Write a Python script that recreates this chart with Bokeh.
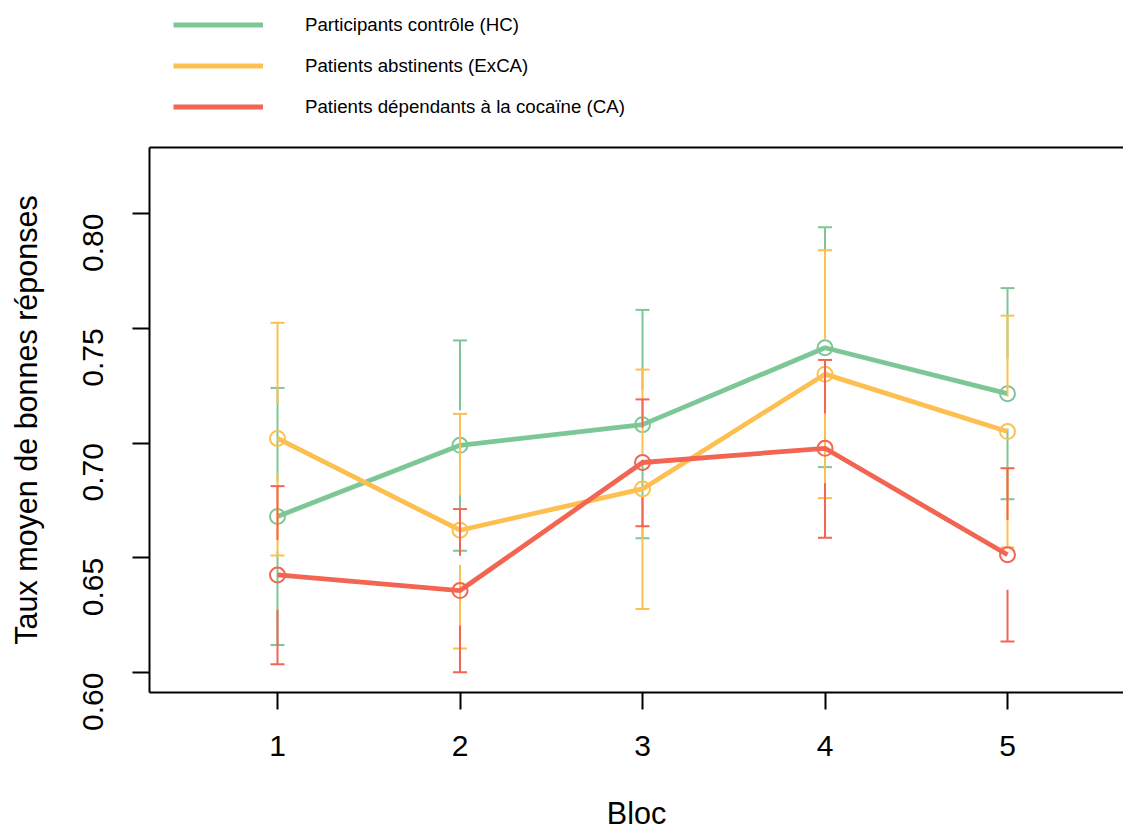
import math
from bokeh.plotting import figure
from bokeh.layouts import column
from bokeh.models import (Legend, LegendItem, LinearAxis,
                          FixedTicker, Range1d, NumeralTickFormatter)
from bokeh.embed import file_html
from bokeh.resources import INLINE

# ---------------- data ----------------
blocs = [1, 2, 3, 4, 5]
group_names = ["Participants contrôle (HC)",
               "Patients abstinents (ExCA)",
               "Patients dépendants à la cocaïne (CA)"]

hc_mean = [0.668, 0.699, 0.708, 0.7415, 0.7215]
hc_low = [0.612, 0.653, 0.6585, 0.6895, 0.6755]
hc_high = [0.724, 0.7447, 0.758, 0.794, 0.7675]

exca_mean = [0.702, 0.662, 0.680, 0.730, 0.705]
exca_low = [0.651, 0.6105, 0.6277, 0.676, 0.6545]
exca_high = [0.7524, 0.7127, 0.732, 0.784, 0.7555]

ca_mean = [0.6425, 0.6357, 0.6915, 0.6977, 0.6513]
ca_low = [0.6036, 0.6001, 0.6637, 0.6587, 0.6135]
ca_high = [0.6812, 0.6712, 0.719, 0.7362, 0.689]

y_ticks = [0.60, 0.65, 0.70, 0.75, 0.80]
x_label = "Bloc"
y_label = "Taux moyen de bonnes réponses"

colors = ["#7DC797", "#FDBF50", "#F26552"]
FONT = "Liberation Sans"
GAP = 0.0152  # gap around the point (plotCI style)
LINE_W = 4.8

# ---------------- legend strip (top) ----------------
LEG_H = 140
lf = figure(width=1123, height=LEG_H, x_range=Range1d(1, 2), y_range=Range1d(1, 2),
            output_backend="svg", toolbar_location=None,
            x_axis_location=None, y_axis_location=None,
            min_border_left=0, min_border_right=0, min_border_top=0, min_border_bottom=0)
lf.xgrid.visible = False
lf.ygrid.visible = False
lf.outline_line_color = None
# legend-only renderers (a single point: nothing is drawn in the strip)
leg_renderers = [lf.line(x=[0], y=[0], line_color=c, line_width=LINE_W) for c in colors]
legend = Legend(items=[LegendItem(label=n, renderers=[r])
                       for n, r in zip(group_names, leg_renderers)],
                location=(24, 17), orientation="vertical",
                glyph_width=90, glyph_height=33, label_height=33,
                spacing=8, padding=0, margin=0, label_standoff=42,
                border_line_color=None, background_fill_alpha=0,
                label_text_font=FONT, label_text_font_size="18.7px",
                label_text_color="black")
lf.add_layout(legend)

# ---------------- main plot ----------------
p = figure(width=1123, height=832 - LEG_H,
           x_range=Range1d(0.2986, 5.6356), y_range=Range1d(0.59129, 0.82876),
           output_backend="svg", toolbar_location=None,
           min_border_left=149, min_border_right=0,
           min_border_top=147 - LEG_H, min_border_bottom=140)
p.outline_line_color = None
p.xgrid.visible = False
p.ygrid.visible = False
p.background_fill_color = "white"
p.border_fill_color = "white"

groups = [(hc_mean, hc_low, hc_high), (exca_mean, exca_low, exca_high),
          (ca_mean, ca_low, ca_high)]

for (mean, low, high), col in zip(groups, colors):
    x0, y0, x1, y1 = [], [], [], []
    for x, m, lo, hi in zip(blocs, mean, low, high):
        if hi > m + GAP:
            x0.append(x); y0.append(m + GAP); x1.append(x); y1.append(hi)
        if lo < m - GAP:
            x0.append(x); y0.append(m - GAP); x1.append(x); y1.append(lo)
    p.segment(x0=x0, y0=y0, x1=x1, y1=y1, line_color=col, line_width=2)
    p.scatter(x=blocs + blocs, y=low + high, marker="dash", size=14,
              line_color=col, line_width=2)
    p.line(x=blocs, y=mean, line_color=col, line_width=LINE_W)
    p.scatter(x=blocs, y=mean, marker="circle", size=15, fill_color=None,
              line_color=col, line_width=2)

# axes
p.xaxis.ticker = FixedTicker(ticks=blocs)
p.yaxis.ticker = FixedTicker(ticks=y_ticks)
p.yaxis.formatter = NumeralTickFormatter(format="0.00")
for ax in (p.xaxis[0], p.yaxis[0]):
    ax.axis_line_width = 2
    ax.axis_line_color = "black"
    ax.major_tick_line_width = 2
    ax.major_tick_line_color = "black"
    ax.major_tick_out = 17
    ax.major_tick_in = 0
    ax.minor_tick_line_color = None
    ax.major_label_text_font = FONT
    ax.major_label_text_font_size = "30px"
    ax.major_label_text_color = "black"
    ax.axis_label_text_font = FONT
    ax.axis_label_text_font_size = "30.5px"
    ax.axis_label_text_font_style = "normal"
    ax.axis_label_text_color = "black"

p.xaxis.axis_label = x_label
p.yaxis.axis_label = y_label
p.xaxis.major_label_standoff = 26
p.xaxis.axis_label_standoff = 37
p.yaxis.major_label_orientation = math.pi / 2
p.yaxis.major_label_standoff = 39
p.yaxis.axis_label_standoff = 28

top_axis = LinearAxis(ticker=FixedTicker(ticks=[]), axis_line_width=2,
                      axis_line_color="black", major_tick_line_color=None,
                      major_tick_out=0, major_tick_in=0, major_label_standoff=0,
                      minor_tick_line_color=None, major_label_text_color=None,
                      major_label_text_font_size="0px")
p.add_layout(top_axis, "above")

open("out.html", "w").write(file_html(column(lf, p, spacing=0), INLINE))
